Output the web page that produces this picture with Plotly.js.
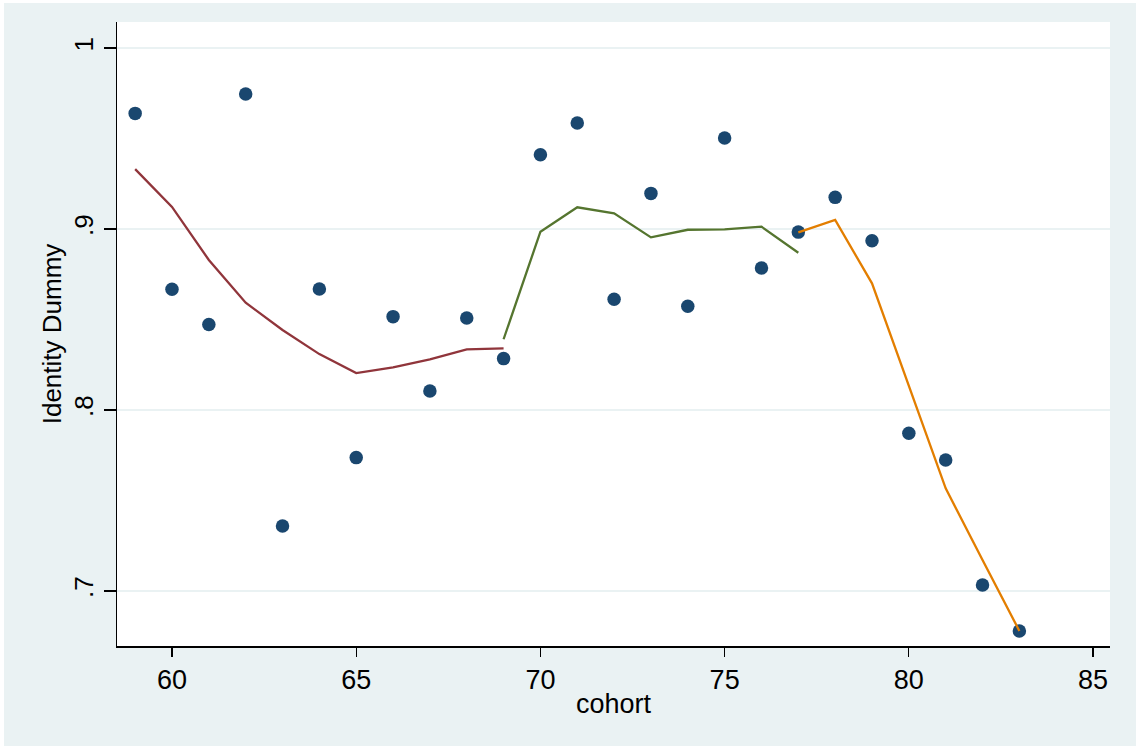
<!DOCTYPE html>
<html>
<head>
<meta charset="utf-8">
<script src="https://cdn.plot.ly/plotly-3.0.1.min.js"></script>
<style>
html,body{margin:0;padding:0;background:#ffffff;}
#chart{position:absolute;left:4px;top:3px;width:1132px;height:743px;}
</style>
</head>
<body>
<div id="chart"></div>
<script>
const cohort = [59,60,61,62,63,64,65,66,67,68,69,70,71,72,73,74,75,76,77,78,79,80,81,82,83];
const identityDummy = [0.9639,0.8667,0.8473,0.9746,0.7359,0.8669,0.7737,0.8516,0.8105,0.8508,0.8284,0.9411,0.9586,0.8612,0.9197,0.8573,0.9503,0.8785,0.8983,0.9175,0.8935,0.7871,0.7724,0.7033,0.6779];

const fit1Cohort = [59,60,61,62,63,64,65,66,67,68,69];
const fit1Values = [0.9331,0.9122,0.8829,0.8593,0.8442,0.8309,0.8204,0.8236,0.8280,0.8335,0.8341];

const fit2Cohort = [69,70,71,72,73,74,75,76,77];
const fit2Values = [0.8391,0.8985,0.9120,0.9087,0.8954,0.8996,0.8998,0.9013,0.8869];

const fit3Cohort = [77,78,79,80,81,82,83];
const fit3Values = [0.8982,0.9050,0.8700,0.8130,0.7567,0.7171,0.6779];

const xTicks = [60,65,70,75,80,85];
const yTicks = [0.7,0.8,0.9,1];
const yTickText = ['.7','.8','.9','1'];

const font = "Liberation Sans, Arial, sans-serif";

const traces = [
  {x: cohort, y: identityDummy, type: 'scatter', mode: 'markers',
   marker: {color: '#1a476f', size: 13.5, line: {width: 0}}, showlegend: false},
  {x: fit1Cohort, y: fit1Values, type: 'scatter', mode: 'lines',
   line: {color: '#90353b', width: 2.3}, showlegend: false},
  {x: fit2Cohort, y: fit2Values, type: 'scatter', mode: 'lines',
   line: {color: '#55752f', width: 2.3}, showlegend: false},
  {x: fit3Cohort, y: fit3Values, type: 'scatter', mode: 'lines',
   line: {color: '#e37e00', width: 2.3}, showlegend: false}
];

const layout = {
  width: 1132, height: 743,
  paper_bgcolor: '#eaf2f3',
  plot_bgcolor: '#ffffff',
  margin: {l: 113, r: 26, t: 19, b: 100},
  font: {family: font, color: '#000000', size: 26},
  xaxis: {
    range: [58.507, 85.46],
    tickvals: xTicks,
    ticktext: xTicks.map(String),
    ticks: 'outside', ticklen: 9, tickwidth: 1.2, tickcolor: '#000',
    showgrid: false, zeroline: false,
    showline: true, linecolor: '#000', linewidth: 1.5,
    tickfont: {family: font, size: 27},
    title: {text: 'cohort', font: {family: font, size: 27}, standoff: 0}
  },
  yaxis: {
    range: [0.6696, 1.0144],
    tickvals: yTicks,
    ticktext: yTickText,
    tickangle: -90,
    ticks: 'outside', ticklen: 12, tickwidth: 1.2, tickcolor: '#000',
    showgrid: true, gridcolor: '#eaf2f3', gridwidth: 2,
    zeroline: false,
    showline: true, linecolor: '#000', linewidth: 1.5,
    tickfont: {family: font, size: 26},
    title: {text: 'Identity Dummy', font: {family: font, size: 26}, standoff: 0}
  },
  showlegend: false
};

Plotly.newPlot('chart', traces, layout, {displayModeBar: false, staticPlot: true});
</script>
</body>
</html>
